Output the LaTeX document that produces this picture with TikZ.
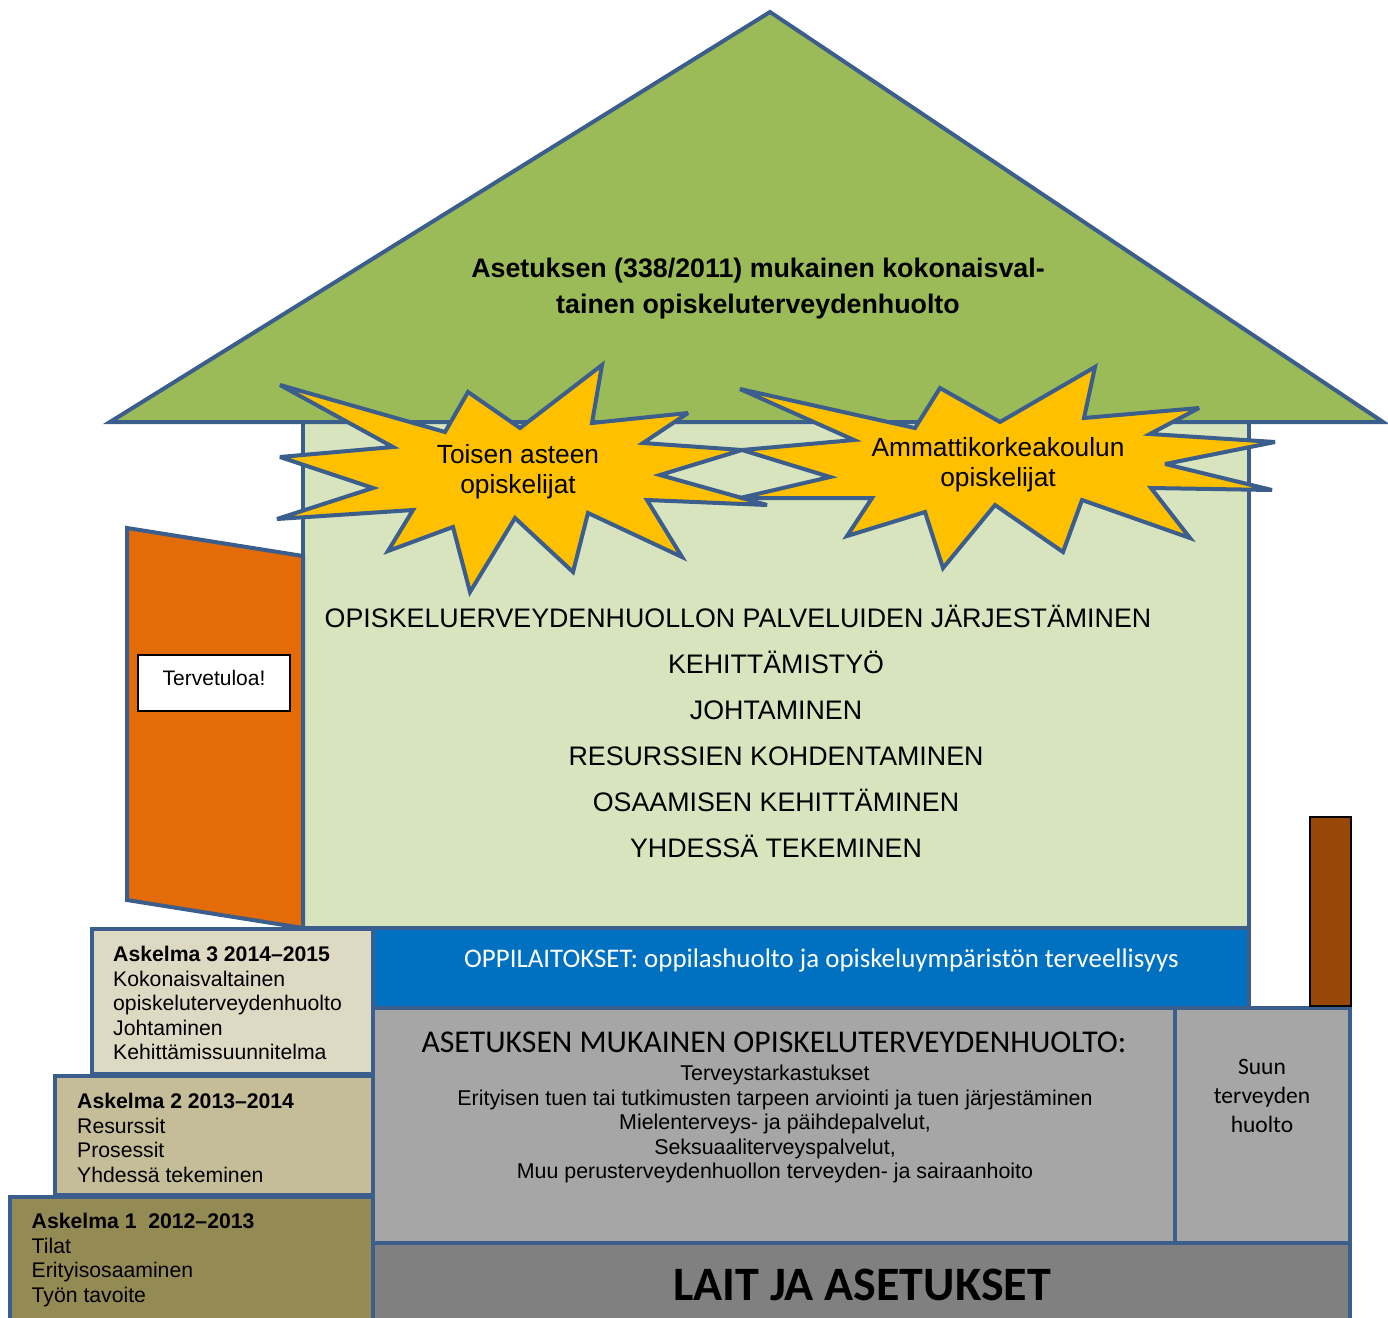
\documentclass[tikz,border=0pt]{standalone}
\usepackage{fontspec}
\setmainfont{Liberation Sans}
\newfontfamily\calibri{Carlito}
\definecolor{RoofGreen}{HTML}{9BBB59}
\definecolor{WallGreen}{HTML}{D7E4BD}
\definecolor{Outline}{HTML}{3B5E8C}
\definecolor{StarYellow}{HTML}{FFC000}
\definecolor{DoorOrange}{HTML}{E36C09}
\definecolor{SchoolBlue}{HTML}{0070C0}
\definecolor{LightGray}{HTML}{A6A6A6}
\definecolor{DarkGray}{HTML}{808080}
\definecolor{ChimneyBrown}{HTML}{974806}
\definecolor{StepThree}{HTML}{DDD9C3}
\definecolor{StepTwo}{HTML}{C4BD97}
\definecolor{StepOne}{HTML}{948A54}
\newcommand{\fs}[2]{\fontsize{#1}{#2}\selectfont}
\tikzset{
  housepart/.style={draw=Outline, line width=4pt, line join=miter},
  burst/.style={housepart, fill=StarYellow, miter limit=4},
  bursttext/.style={anchor=north, align=center, inner sep=0pt, font=\fs{26.3}{30}},
  walltext/.style={anchor=base, inner sep=0pt, font=\fs{26.8}{30}},
  steptext/.style={anchor=north west, align=left, inner sep=0pt, font=\fs{21.2}{24.6}},
  sign/.style={draw=black, line width=1.5pt, fill=white, minimum width=152pt,
    minimum height=56pt, inner sep=0pt, font=\fs{21}{24}}
}

\begin{document}
\begin{tikzpicture}[x=1pt,y=-1pt]
  \useasboundingbox (0,0) rectangle (1388,1317);
  % wall and door
  \draw[housepart, fill=WallGreen] (303,422) rectangle (1249,928);
  \draw[housepart, fill=DoorOrange] (127,528) -- (303,556) -- (303,928) -- (127,900) -- cycle;
  \node[sign, anchor=base, text depth=11pt] (welcome) at (214,685) {Tervetuloa!};
  % roof
  \draw[housepart, fill=RoofGreen] (110,422) -- (770,12) -- (1383,422) -- cycle;
  \node[anchor=north, align=center, inner sep=0pt, font=\bfseries\fs{26.8}{36}] (rooftitle)
    at (758,258) {Asetuksen (338/2011) mukainen kokonaisval-\\tainen opiskeluterveydenhuolto};
  % the two stars
  \draw[burst] (280,385) -- (445,432) -- (468,392) -- (520,428) -- (602,365) -- (592,423)
    -- (688,413) -- (643,443) -- (742,450) -- (660,475) -- (767,505) -- (647,500)
    -- (682,557) -- (588,513) -- (573,572) -- (515,518) -- (470,592) -- (453,527)
    -- (388,551) -- (413,510) -- (277,519) -- (373,488) -- (280,457) -- (393,447) -- cycle;
  \draw[burst] (740,389) -- (915,428) -- (940,388) -- (1000,422) -- (1095,367) -- (1084,418)
    -- (1199,408) -- (1150,434) -- (1275,442) -- (1165,464) -- (1272,490) -- (1151,488)
    -- (1190,538) -- (1082,500) -- (1063,552) -- (995,505) -- (943,568) -- (925,512)
    -- (847,536) -- (872,498) -- (740,498) -- (830,477) -- (742,450) -- (854,440) -- cycle;
  \node[bursttext] (secondary) at (518,444.5) {Toisen asteen\\opiskelijat};
  \node[bursttext] (polytechnic) at (998,437.5) {Ammattikorkeakoulun\\opiskelijat};
  % wall texts
  \node[walltext] (organising) at (738,627.5) {OPISKELUERVEYDENHUOLLON PALVELUIDEN JÄRJESTÄMINEN};
  \node[walltext] (development) at (776,673.5) {KEHITTÄMISTYÖ};
  \node[walltext] (management) at (776,719.5) {JOHTAMINEN};
  \node[walltext] (resources) at (776,765.5) {RESURSSIEN KOHDENTAMINEN};
  \node[walltext] (skills) at (776,811.5) {OSAAMISEN KEHITTÄMINEN};
  \node[walltext] (together) at (776,857.5) {YHDESSÄ TEKEMINEN};
  % foundation
  \draw[housepart, fill=SchoolBlue] (373,928) rectangle (1249,1008);
  \node[anchor=base, inner sep=0pt, text=white, font=\calibri\fs{26.9}{30}] (schools)
    at (821.5,967) {OPPILAITOKSET: oppilashuolto ja opiskeluympäristön terveellisyys};
  \draw[housepart, fill=LightGray] (373,1008) rectangle (1175,1243);
  \draw[housepart, fill=LightGray] (1175,1008) rectangle (1350,1243);
  \draw[housepart, fill=DarkGray] (373,1243) rectangle (1350,1340);
  \node[anchor=base, inner sep=0pt, font=\calibri\fs{31.7}{36}] (decree)
    at (774,1052) {ASETUKSEN MUKAINEN OPISKELUTERVEYDENHUOLTO:};
  \node[anchor=north, align=center, inner sep=0pt, font=\fs{21.4}{24.5}] (services)
    at (775,1065) {Terveystarkastukset\\
      Erityisen tuen tai tutkimusten tarpeen arviointi ja tuen järjestäminen\\
      Mielenterveys- ja päihdepalvelut,\\
      Seksuaaliterveyspalvelut,\\
      Muu perusterveydenhuollon terveyden- ja sairaanhoito};
  \node[anchor=north, align=center, inner sep=0pt, font=\calibri\fs{23.5}{29}] (dental)
    at (1262,1059.5) {Suun\\terveyden\\huolto};
  \node[anchor=base, inner sep=0pt, font=\calibri\bfseries\fs{48}{50}] (laws)
    at (862,1300) {LAIT JA ASETUKSET};
  % steps
  \draw[housepart, fill=StepThree] (92,929) rectangle (373,1074);
  \draw[housepart, fill=StepTwo] (55,1076) rectangle (373,1195);
  \draw[housepart, fill=StepOne] (10,1197) rectangle (373,1340);
  \node[steptext] (stepthree) at (113,946) {\textbf{Askelma 3 2014–2015}\\
    Kokonaisvaltainen\\opiskeluterveydenhuolto\\Johtaminen\\Kehittämissuunnitelma};
  \node[steptext] (steptwo) at (77,1093) {\textbf{Askelma 2 2013–2014}\\
    Resurssit\\Prosessit\\Yhdessä tekeminen};
  \node[steptext] (stepone) at (31.5,1213) {\textbf{Askelma 1\ \ 2012–2013}\\
    Tilat\\Erityisosaaminen\\Työn tavoite};
  % chimney
  \draw[black, line width=2pt, fill=ChimneyBrown] (1310,817) rectangle (1351,1006);
\end{tikzpicture}
\end{document}
